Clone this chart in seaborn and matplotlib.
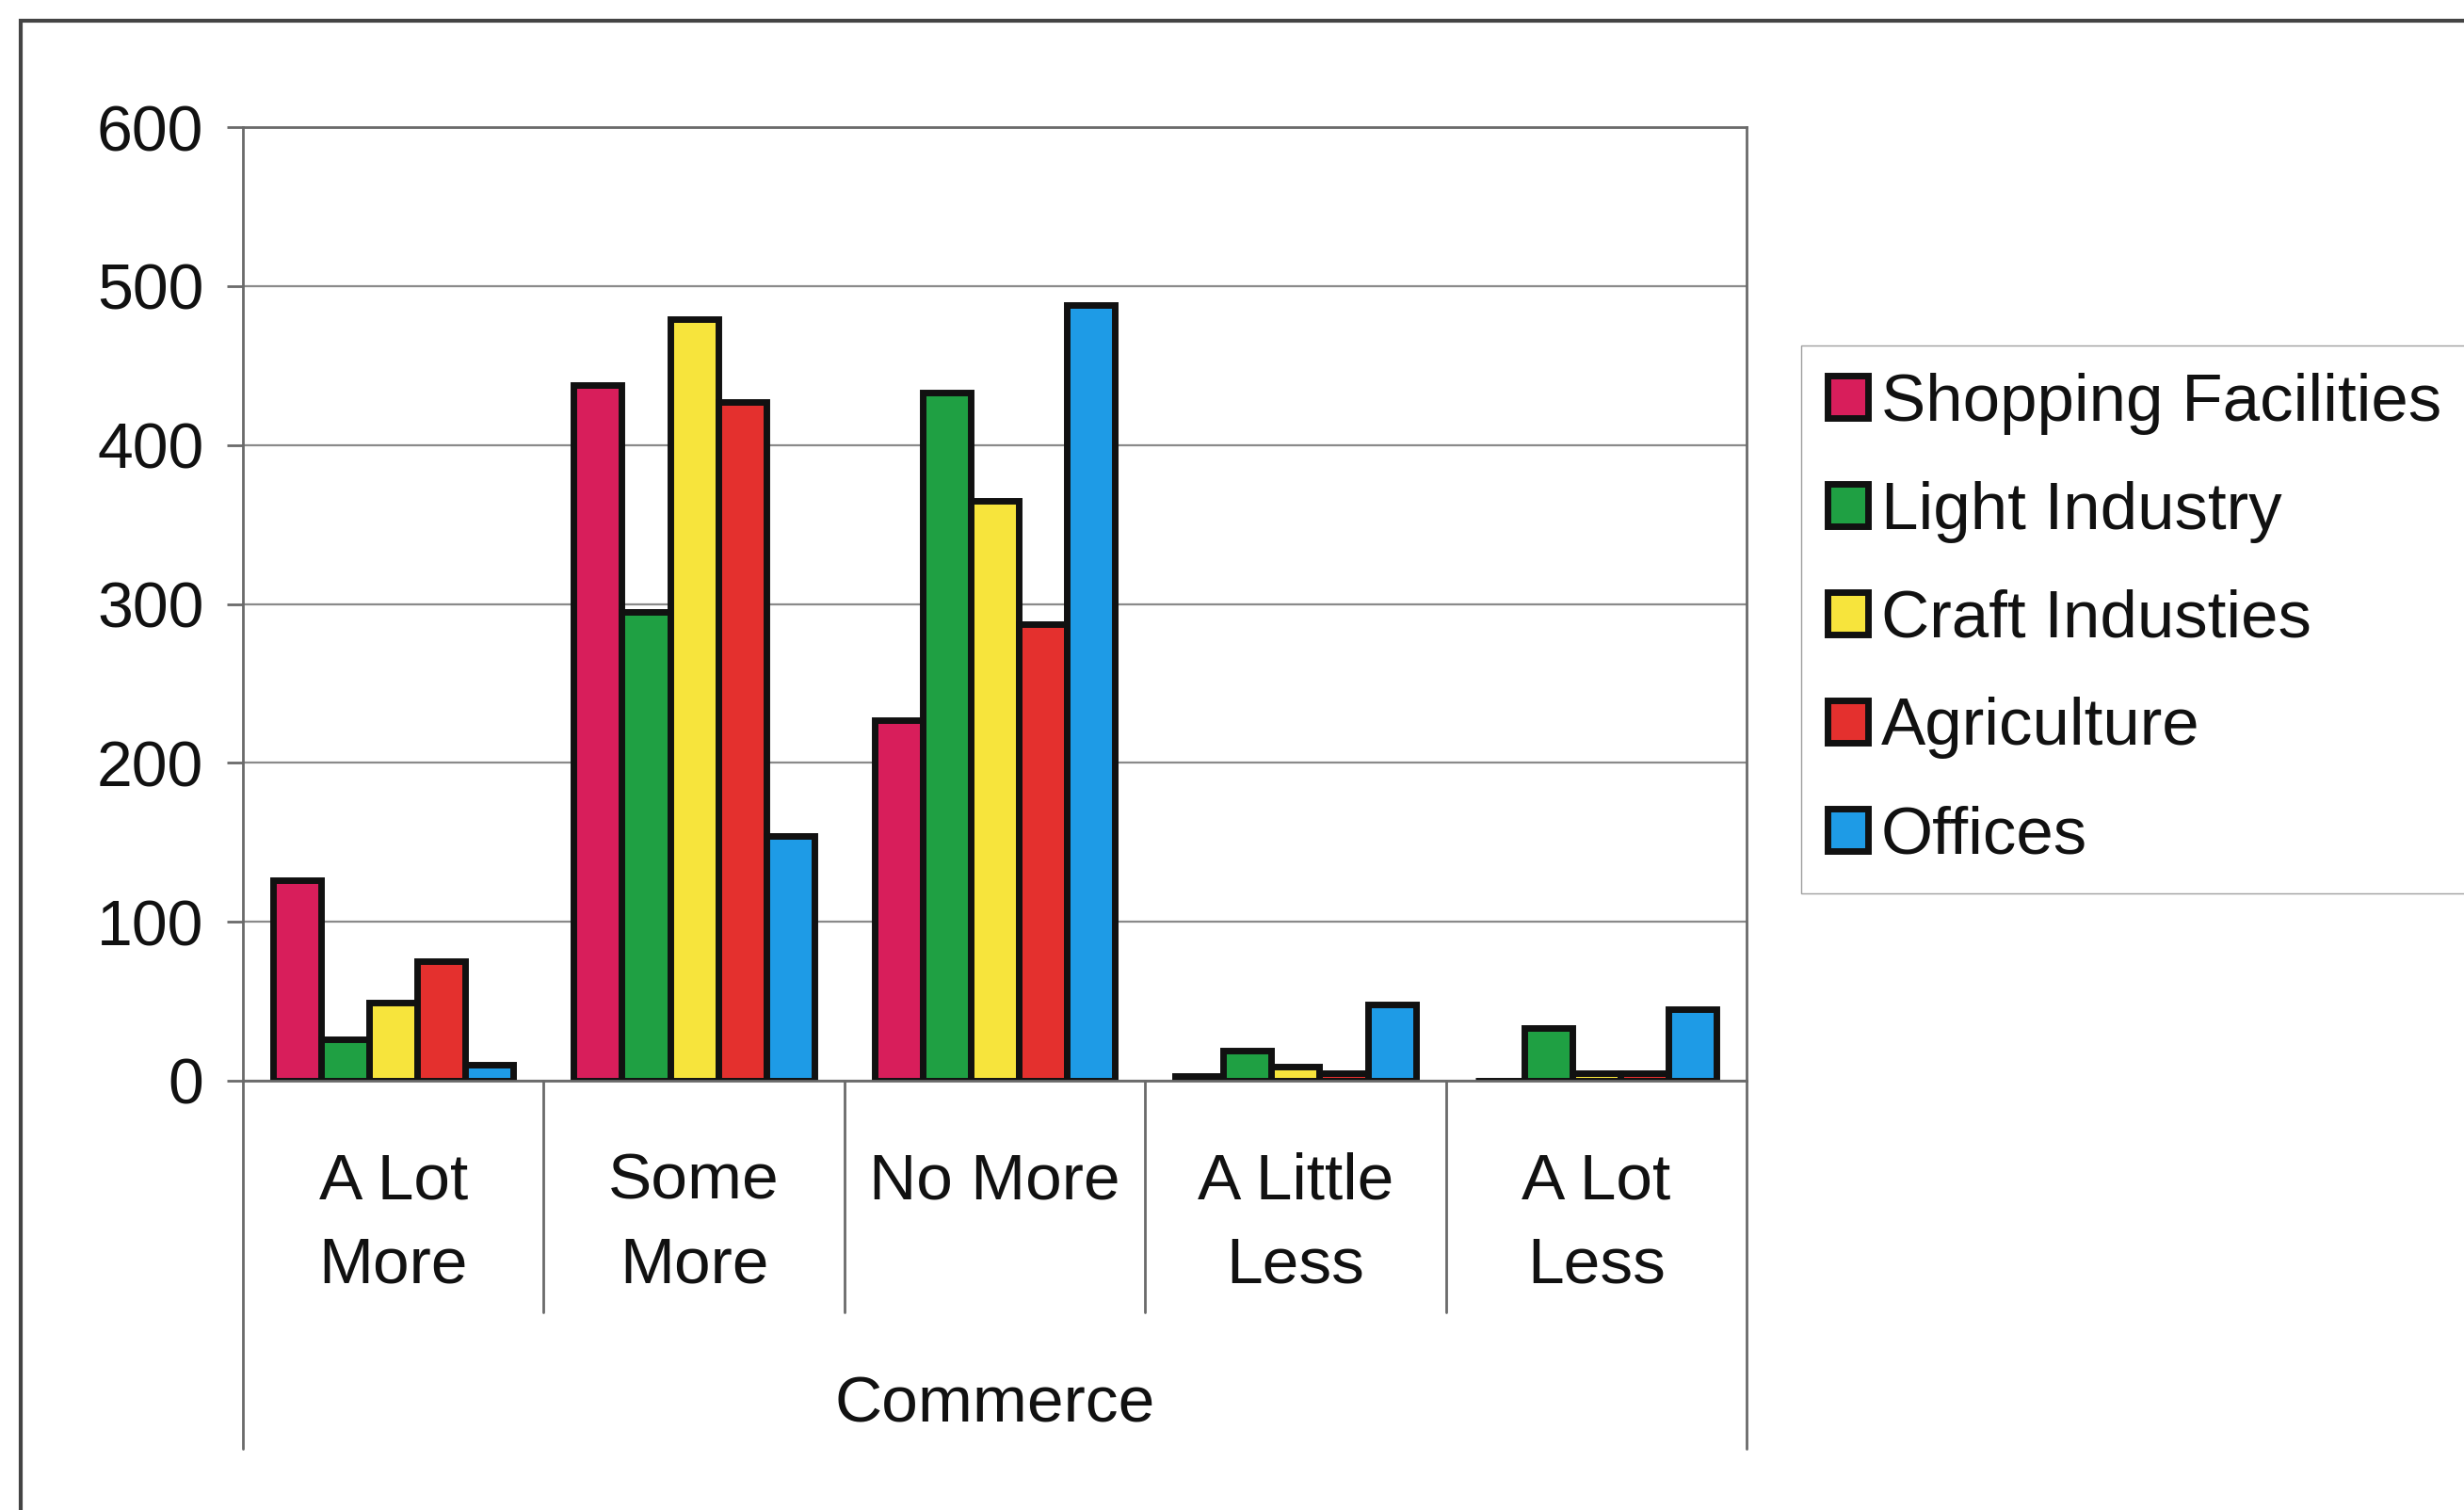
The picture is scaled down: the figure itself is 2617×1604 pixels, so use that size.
import pandas as pd
import seaborn as sns
import matplotlib.pyplot as plt
from matplotlib.patches import Rectangle
from matplotlib.transforms import blended_transform_factory

categories = ["A Lot\nMore", "Some\nMore", "No More", "A Little\nLess", "A Lot\nLess"]
shopping = [126, 438, 227, 3, 0]
light_industry = [26, 295, 433, 19, 33]
craft = [49, 479, 365, 9, 5]
agriculture = [75, 427, 287, 5, 5]
offices = [10, 154, 488, 48, 45]

series = {
    "Shopping Facilities": shopping,
    "Light Industry": light_industry,
    "Craft Industies": craft,
    "Agriculture": agriculture,
    "Offices": offices,
}
colors = ["#D81E5B", "#1FA043", "#F7E43C", "#E4302E", "#1E9BE6"]

rows = []
for name, vals in series.items():
    for cat, v in zip(categories, vals):
        rows.append({"response": cat, "count": v, "sector": name})
df = pd.DataFrame(rows)

sns.set_style("white")
plt.rcParams["font.family"] = ["Liberation Sans", "DejaVu Sans"]
txt = "#111111"

fig = plt.figure(figsize=(26.17, 16.04), dpi=100)
ax = fig.add_axes([0.0986, 0.2843, 0.6102, 0.6315])

sns.barplot(data=df, x="response", y="count", hue="sector", palette=colors,
            saturation=1, edgecolor="#111111", linewidth=5, width=0.8, ax=ax)
handles, labels = ax.get_legend_handles_labels()
ax.get_legend().remove()

ax.set_ylim(0, 600)
ax.set_xlim(-0.5, 4.5)
ax.set_yticks(range(0, 601, 100))
ax.yaxis.grid(True, color="#8a8a8a", linewidth=1.6)
ax.set_axisbelow(True)
for s in ["left", "right", "top", "bottom"]:
    ax.spines[s].set_color("#6a6a6a")
    ax.spines[s].set_linewidth(2)
ax.tick_params(axis="y", labelsize=49, left=True, length=12, width=2,
               color="#6a6a6a", pad=18, labelcolor=txt)
ax.tick_params(axis="x", labelsize=50, bottom=False, pad=51, labelcolor=txt)
ax.set_xticks(range(len(categories)))
ax.set_xticklabels(categories, linespacing=1.5, va="top")
ax.set_ylabel("")
ax.set_xlabel("Commerce", fontsize=50, color=txt, labelpad=60)

# category separators below the axis
tr = blended_transform_factory(ax.transData, ax.transAxes)
for xb in [0.5, 1.5, 2.5, 3.5]:
    ax.plot([xb, xb], [0, -0.243], transform=tr, color="#6a6a6a",
            linewidth=2, clip_on=False)
for xb in [-0.5, 4.5]:
    ax.plot([xb, xb], [0, -0.386], transform=tr, color="#6a6a6a",
            linewidth=2, clip_on=False)

# outer chart frame
fig.patches.append(Rectangle((0.0084, -0.1), 1.2, 1.0863, transform=fig.transFigure,
                             fill=False, edgecolor="#444444", linewidth=3))

fig.legend(handles, labels, loc="upper left",
           bbox_to_anchor=(0.731, 0.771, 0.35, 0.0), mode="expand",
           fontsize=51, frameon=True, fancybox=False, edgecolor="#888888",
           handlelength=0.6, handleheight=0.6, handletextpad=0.2,
           labelspacing=0.69, borderpad=0.4, borderaxespad=0,
           labelcolor=txt)

fig.savefig("out.png", dpi=100, facecolor="white")
